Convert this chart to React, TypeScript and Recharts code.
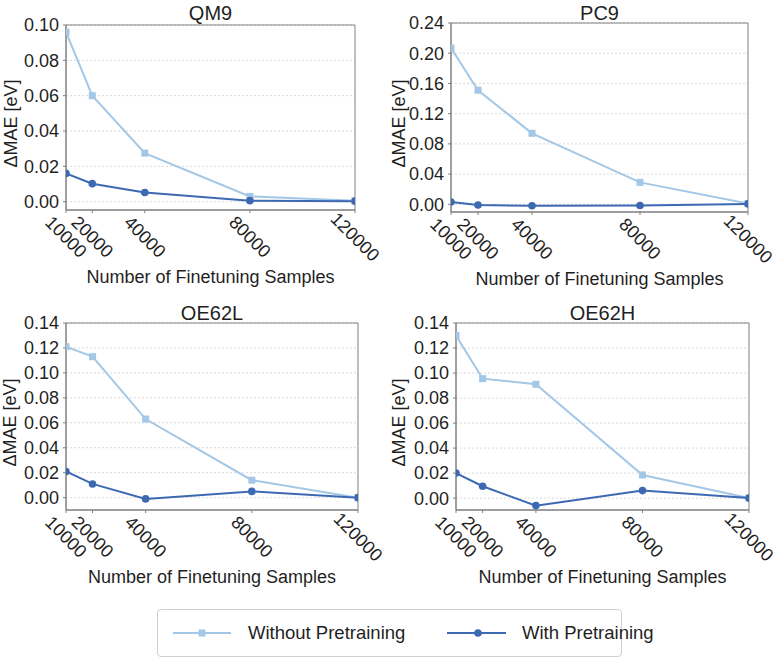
import React from 'react';
import {
  LineChart,
  Line,
  XAxis,
  YAxis,
  CartesianGrid,
  ReferenceArea,
} from 'recharts';

const samples = [10000, 20000, 40000, 80000, 120000];

const qm9Without = [0.096, 0.06, 0.0275, 0.003, 0.0005];
const qm9With = [0.016, 0.0102, 0.0052, 0.0006, 0.0003];
const pc9Without = [0.207, 0.151, 0.094, 0.029, 0.001];
const pc9With = [0.003, -0.001, -0.002, -0.0015, 0.0005];
const oe62lWithout = [0.121, 0.113, 0.063, 0.014, 0.0];
const oe62lWith = [0.021, 0.011, -0.001, 0.005, 0.0];
const oe62hWithout = [0.13, 0.0955, 0.091, 0.0185, 0.0];
const oe62hWith = [0.02, 0.0095, -0.006, 0.006, 0.0];

const qm9Ticks = [0, 0.02, 0.04, 0.06, 0.08, 0.1];
const pc9Ticks = [0, 0.04, 0.08, 0.12, 0.16, 0.2, 0.24];
const oe62Ticks = [0, 0.02, 0.04, 0.06, 0.08, 0.1, 0.12, 0.14];

const LIGHT = '#a3c7e6';
const DARK = '#3c69b2';
const TEXT = '#1f1f1f';
const FONT = '"Liberation Sans", Arial, Helvetica, sans-serif';

const panels = [
  { title: 'QM9', without: qm9Without, withPre: qm9With, ticks: qm9Ticks, yMin: -0.0047, yMax: 0.1,
    left: 0, top: 0, plot: [66, 355, 25, 210], yLabelX: 11 },
  { title: 'PC9', without: pc9Without, withPre: pc9With, ticks: pc9Ticks, yMin: -0.0102, yMax: 0.24,
    left: 390, top: 0, plot: [61, 358, 23, 212], yLabelX: 9 },
  { title: 'OE62L', without: oe62lWithout, withPre: oe62lWith, ticks: oe62Ticks, yMin: -0.0099, yMax: 0.14,
    left: 0, top: 300, plot: [66, 358, 23, 210], yLabelX: 10 },
  { title: 'OE62H', without: oe62hWithout, withPre: oe62hWith, ticks: oe62Ticks, yMin: -0.0095, yMax: 0.14,
    left: 390, top: 300, plot: [66, 359, 23, 210], yLabelX: 9 },
];

const RotTick = ({ x, y, payload }: any) => (
  <g transform={`translate(${x},${y + 22})`}>
    <text textAnchor="middle" dominantBaseline="central" transform="rotate(45)" fontSize={18} fill={TEXT} fontFamily={FONT}>
      {payload.value}
    </text>
  </g>
);

const YLabel = ({ viewBox, lx }: any) => {
  const cy = viewBox.y + viewBox.height / 2 + 6;
  return (
    <text x={lx} y={cy} transform={`rotate(-90, ${lx}, ${cy})`} textAnchor="middle" dominantBaseline="central"
      fontSize={18} fill={TEXT} fontFamily={FONT}>
      ΔMAE [eV]
    </text>
  );
};

const XLabel = ({ viewBox }: any) => (
  <text x={viewBox.x + viewBox.width / 2} y={viewBox.y + 73} textAnchor="middle" fontSize={18} fill={TEXT} fontFamily={FONT}>
    Number of Finetuning Samples
  </text>
);

const SquareDot = (p: any) => (
  <rect key={`sq-${p.index}`} x={p.cx - 3.5} y={p.cy - 3.5} width={7} height={7} fill={LIGHT} />
);

function Panel({ cfg }: any) {
  const [pl, pr, pt, pb] = cfg.plot;
  const W = 390;
  const H = 300;
  const data = samples.map((n, i) => ({ n, without: cfg.without[i], withPre: cfg.withPre[i] }));
  return (
    <div style={{ position: 'absolute', left: cfg.left, top: cfg.top, width: W, height: H }}>
      <div style={{ position: 'absolute', left: pl, width: pr - pl, top: 3, textAlign: 'center', fontSize: 20, lineHeight: '20px', color: TEXT }}>
        {cfg.title}
      </div>
      <LineChart width={W} height={H} data={data} margin={{ top: pt, right: W - pr, bottom: H - pb - 78, left: 0 }}>
        <CartesianGrid vertical={false} stroke="#d9d9d9" strokeDasharray="2 2" />
        <XAxis
          dataKey="n"
          type="number"
          domain={[10000, 120000]}
          ticks={samples}
          interval={0}
          allowDataOverflow
          height={78}
          tick={<RotTick />}
          tickSize={3}
          stroke="#808080"
          label={<XLabel />}
        />
        <YAxis
          type="number"
          domain={[cfg.yMin, cfg.yMax]}
          ticks={cfg.ticks}
          interval={0}
          allowDataOverflow
          width={pl}
          tickSize={3}
          tickMargin={4}
          tickFormatter={(v: number) => v.toFixed(2)}
          tick={{ fontSize: 18, fill: TEXT, fontFamily: FONT }}
          stroke="#808080"
          label={<YLabel lx={cfg.yLabelX} />}
        />
        <ReferenceArea x1={10000} x2={120000} y1={cfg.yMin} y2={cfg.yMax} fill="none" stroke="#808080" strokeOpacity={1} />
        <Line
          dataKey="without"
          type="linear"
          stroke={LIGHT}
          strokeWidth={2}
          dot={SquareDot}
          activeDot={false}
          isAnimationActive={false}
        />
        <Line
          dataKey="withPre"
          type="linear"
          stroke={DARK}
          strokeWidth={2}
          dot={{ r: 3.8, fill: DARK, stroke: DARK, strokeWidth: 0 }}
          activeDot={false}
          isAnimationActive={false}
        />
      </LineChart>
    </div>
  );
}

export default function App() {
  return (
    <div style={{ position: 'absolute', left: 0, top: 0, width: 779, height: 661, background: '#fff', fontFamily: FONT }}>
      {panels.map((p) => (
        <Panel key={p.title} cfg={p} />
      ))}
      <div style={{ position: 'absolute', left: 157, top: 609, width: 465, height: 48, border: '1px solid #cfcfcf', borderRadius: 4, boxSizing: 'border-box' }}>
        <svg style={{ position: 'absolute', left: 0, top: 0 }} width={465} height={48}>
          <line x1={15} x2={73} y1={23} y2={23} stroke={LIGHT} strokeWidth={2} />
          <rect x={40.5} y={19.5} width={7} height={7} fill={LIGHT} />
          <line x1={289} x2={348} y1={23} y2={23} stroke={DARK} strokeWidth={2} />
          <circle cx={320} cy={23} r={3.8} fill={DARK} />
        </svg>
        <div style={{ position: 'absolute', left: 90, top: 12, fontSize: 18.5, lineHeight: '22px', color: TEXT, whiteSpace: 'nowrap' }}>
          Without Pretraining
        </div>
        <div style={{ position: 'absolute', left: 364, top: 12, fontSize: 18.5, lineHeight: '22px', color: TEXT, whiteSpace: 'nowrap' }}>
          With Pretraining
        </div>
      </div>
    </div>
  );
}
